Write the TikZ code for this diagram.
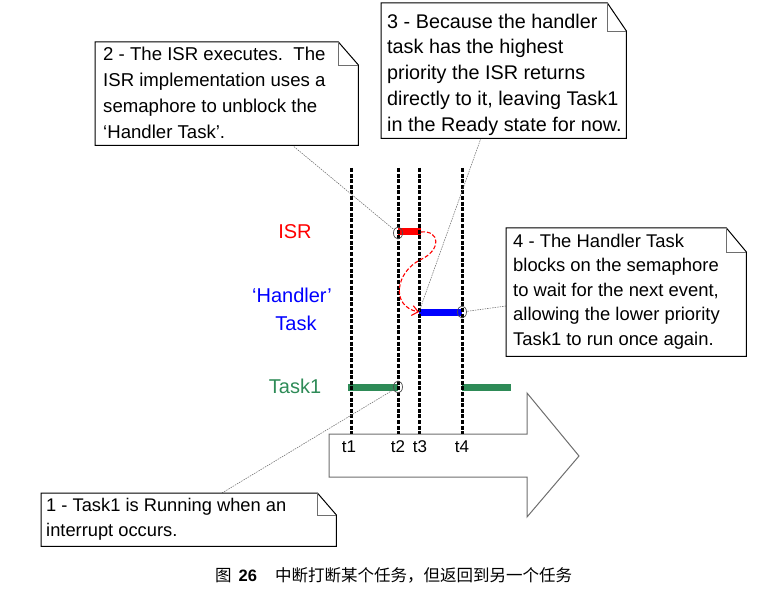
\documentclass[tikz,border=0pt]{standalone}
\usepackage{fontspec}
\setmainfont{Liberation Sans}
\newfontfamily\cjk{Noto Sans CJK SC}
\usetikzlibrary{arrows.meta,shapes.geometric}
\definecolor{tgreen}{RGB}{46,139,87}
\definecolor{agray}{RGB}{110,110,110}
\newcommand\drawnote[3]{%
  \draw[outline, fill=white] (#1.north west) -- ([xshift=-#2pt]#1.north east) -- ([yshift=-#3pt]#1.north east) -- (#1.south east) -- (#1.south west) -- cycle;
  \draw[fold] ([xshift=-#2pt]#1.north east) |- ([yshift=-#3pt]#1.north east);}
\begin{document}
\begin{tikzpicture}[x=1pt,y=-1pt,
  boxn/.style={inner sep=0pt, draw=none, anchor=north west},
  notetext/.style={inner sep=0pt, align=left, anchor=base west},
  outline/.style={draw=black, line width=1pt},
  fold/.style={draw=agray, line width=0.6pt},
  tline/.style={black, line width=3pt, dash pattern=on 4pt off 1.6pt},
  bar/.style={line width=7pt},
  mk/.style={ellipse, draw=black!70, line width=0.7pt, minimum width=9pt, minimum height=12pt, inner sep=0pt},
  callout/.style={agray, line width=0.55pt, dash pattern=on 1.5pt off 1pt},
  lab/.style={font=\fontsize{20}{24}\selectfont, inner sep=0pt},
  tl/.style={font=\fontsize{17}{20}\selectfont, inner sep=0pt}
]
\useasboundingbox (0,0) rectangle (772,599);

% time arrow
\draw[draw=agray, line width=1pt, fill=white] (329,434) -- (527,434) -- (527,393) -- (579,456) -- (527,517) -- (527,477) -- (329,477) -- cycle;

% bars
\draw[bar, red] (398,232) -- (421,232);
\draw[bar, blue] (419,312) -- (462,312);
\draw[bar, tgreen] (348,387) -- (398,387);
\draw[bar, tgreen] (462,387) -- (511,387);

% time lines
\draw[tline] (351,168) -- (351,434);
\draw[tline] (398,168) -- (398,434);
\draw[tline] (419,168) -- (419,434);
\draw[tline] (462,168) -- (462,434);

% time labels
\node[tl] (tt1) at (349,447) {t1};
\node[tl] (tt2) at (398,447) {t2};
\node[tl] (tt3) at (420,447) {t3};
\node[tl] (tt4) at (462,447) {t4};

% row labels
\node[lab, text=red] (isr) at (295,232) {ISR};
\node[lab, text=blue] (hd1) at (292,295) {‘Handler’};
\node[lab, text=blue] (hd2) at (296,323) {Task};
\node[lab, text=tgreen] (tk1) at (295,386) {Task1};

% red dashed switch curve
\coordinate (isrEnd) at (421,232);
\coordinate (hdStart) at (419,312);
\draw[red, line width=1.1pt, dash pattern=on 4pt off 2pt, -{Straight Barb[length=6pt,width=10pt]}]
  (isrEnd) .. controls (440,230) and (442,250) .. (420,260) .. controls (396,272) and (390,306) .. (hdStart);

% markers
\node[mk] (cA) at (398,233) {};
\node[mk] (cB) at (398,387) {};
\node[mk] (cC) at (462,312) {};

% callout connectors
\coordinate (p1) at (222,493);
\coordinate (p2) at (292,145);
\coordinate (p3) at (481,138);
\coordinate (p4) at (506,306);
\draw[callout] (p1) -- (cB);
\draw[callout] (p2) -- (cA);
\draw[callout] (p3) -- (hdStart);
\draw[callout] (p4) -- (cC);

% note boxes (text anchored at the baseline of its last line)
\node[boxn, minimum width=295pt, minimum height=53pt] (b1) at (41,493) {};
\drawnote{b1}{19}{22}
\node[notetext, font=\fontsize{18.3}{25}\selectfont] (b1t) at (46,536) {1 - Task1 is Running when an\\interrupt occurs.};

\node[boxn, minimum width=263pt, minimum height=103pt] (b2) at (95,42) {};
\drawnote{b2}{20}{23}
\node[notetext, font=\fontsize{18.6}{26}\selectfont] (b2t) at (103,139) {2 - The ISR executes.\ \ The\\ISR implementation uses a\\semaphore to unblock the\\‘Handler Task’.};

\node[boxn, minimum width=245pt, minimum height=135pt] (b3) at (381,3) {};
\drawnote{b3}{19}{28}
\node[notetext, font=\fontsize{19.8}{26}\selectfont] (b3t) at (387,132) {3 - Because the handler\\task has the highest\\priority the ISR returns\\directly to it, leaving Task1\\in the Ready state for now.};

\node[boxn, minimum width=240pt, minimum height=128pt] (b4) at (506,228) {};
\drawnote{b4}{20}{24}
\node[notetext, font=\fontsize{18.4}{24.5}\selectfont] (b4t) at (513,345) {4 - The Handler Task\\blocks on the semaphore\\to wait for the next event,\\allowing the lower priority\\Task1 to run once again.};

% caption
\node[inner sep=0pt, anchor=base west, font=\fontsize{16.5}{20}\selectfont] (cap) at (215,581) {\cjk 图\hspace{7pt}{\rmfamily\bfseries 26}\hspace{18pt}中断打断某个任务，但返回到另一个任务};
\end{tikzpicture}
\end{document}
